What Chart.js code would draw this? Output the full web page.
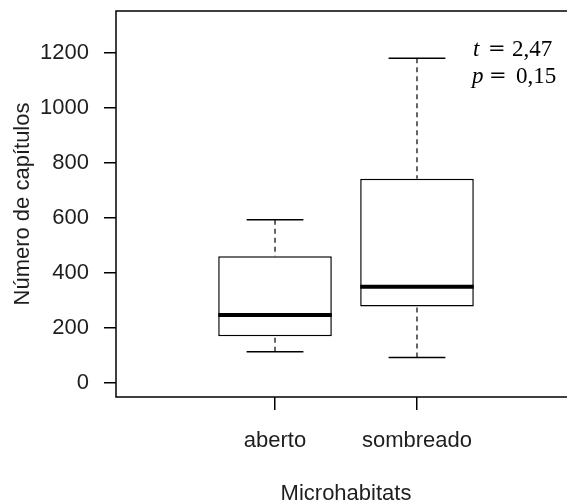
<!DOCTYPE html>
<html>
<head>
<meta charset="utf-8">
<script src="https://cdn.jsdelivr.net/npm/chart.js@4"></script>
<style>
  html, body { margin: 0; padding: 0; background: #fff; overflow: hidden; }
  canvas { display: block; }
</style>
</head>
<body>
<canvas id="boxChart" width="580" height="502"></canvas>
<script>
// ---------------- DATA ----------------
const categories = ["aberto", "sombreado"];
const positions = [1, 2];
const whiskerLow = [113, 92];
const q1 = [169, 277];
const median = [246, 349];
const q3 = [460, 742];
const whiskerHigh = [593, 1180];
const yTicks = [0, 200, 400, 600, 800, 1000, 1200];

const statNames = ["t", "p"];
const statValues = ["2,47", "0,15"];

const TEXT = "#1e1e1e";
const SANS = '"Liberation Sans", Arial, sans-serif';
const SERIF = '"Liberation Serif", "Times New Roman", serif';

// whiskers, caps, median, frame and the t / p text
const boxExtras = {
  id: "boxExtras",
  afterDatasetsDraw(chart) {
    const { ctx, chartArea: a } = chart;
    const y = chart.scales.y;
    const bars = chart.getDatasetMeta(0).data;

    ctx.save();
    ctx.strokeStyle = "#000";
    bars.forEach((bar, i) => {
      const x = bar.x;
      const half = bar.width / 2;
      const yLow = y.getPixelForValue(whiskerLow[i]);
      const yHigh = y.getPixelForValue(whiskerHigh[i]);
      const yQ1 = y.getPixelForValue(q1[i]);
      const yQ3 = y.getPixelForValue(q3[i]);
      const yMed = y.getPixelForValue(median[i]);

      // dashed whiskers (start at the whisker end)
      ctx.lineWidth = 1.2;
      ctx.setLineDash([5, 4]);
      ctx.beginPath();
      ctx.moveTo(x, yLow);
      ctx.lineTo(x, yQ1);
      ctx.stroke();
      ctx.beginPath();
      ctx.moveTo(x, yHigh);
      ctx.lineTo(x, yQ3);
      ctx.stroke();
      ctx.setLineDash([]);

      // staples
      ctx.lineWidth = 1.5;
      ctx.beginPath();
      ctx.moveTo(x - half / 2, yLow);
      ctx.lineTo(x + half / 2, yLow);
      ctx.moveTo(x - half / 2, yHigh);
      ctx.lineTo(x + half / 2, yHigh);
      ctx.stroke();

      // median
      ctx.lineWidth = 4;
      ctx.beginPath();
      ctx.moveTo(x - half, yMed);
      ctx.lineTo(x + half, yMed);
      ctx.stroke();
    });

    // plot frame
    ctx.lineWidth = 1.5;
    ctx.strokeRect(a.left, a.top, a.right - a.left, a.bottom - a.top);

    // statistics
    ctx.fillStyle = "#000";
    ctx.textBaseline = "alphabetic";
    const x0 = a.right - 103;
    const lines = [
      { base: a.top + 45, name: 0, eq: 15, num: 39 },
      { base: a.top + 72, name: -1, eq: 16, num: 43 }
    ];
    lines.forEach((ln, i) => {
      ctx.font = "italic 23px " + SERIF;
      ctx.fillText(statNames[i], x0 + ln.name, ln.base);
      ctx.font = '21px "DejaVu Serif", serif';
      ctx.fillText("=", x0 + ln.eq, ln.base - 1);
      ctx.font = "23px " + SERIF;
      ctx.fillText(statValues[i], x0 + ln.num, ln.base);
    });
    ctx.restore();
  }
};

const boxData = positions.map((p, i) => ({ x: p, y: [q1[i], q3[i]] }));

new Chart(document.getElementById("boxChart"), {
  type: "bar",
  data: {
    datasets: [
      {
        data: boxData,
        backgroundColor: "#fff",
        borderColor: "#000",
        borderWidth: 1.5,
        borderSkipped: false,
        categoryPercentage: 0.8,
        barPercentage: 1
      }
    ]
  },
  options: {
    responsive: false,
    animation: false,
    devicePixelRatio: 1,
    layout: { padding: { top: 11, right: 4, left: 0, bottom: 0 } },
    plugins: {
      legend: { display: false },
      tooltip: { enabled: false }
    },
    scales: {
      x: {
        type: "linear",
        min: -0.12,
        max: 3.12,
        offset: false,
        afterBuildTicks: (scale) => {
          scale.ticks = positions.map((v) => ({ value: v }));
        },
        afterFit: (scale) => {
          scale.height = 105;
          scale.paddingLeft = 0;
          scale.paddingRight = 0;
        },
        ticks: {
          color: TEXT,
          padding: 18,
          autoSkip: false,
          maxRotation: 0,
          font: { family: SANS, size: 22 },
          callback: (v) => categories[positions.indexOf(v)] ?? ""
        },
        grid: { offset: false, drawOnChartArea: false, tickLength: 13, color: "#000", lineWidth: 1.5 },
        border: { display: false },
        title: {
          display: true,
          text: "Microhabitats",
          color: TEXT,
          padding: { top: 0, bottom: 0 },
          font: { family: SANS, size: 22, lineHeight: 0.75 }
        }
      },
      y: {
        min: -52,
        max: 1352,
        afterBuildTicks: (scale) => {
          scale.ticks = yTicks.map((v) => ({ value: v }));
        },
        afterFit: (scale) => {
          scale.width = 116;
          scale.paddingTop = 0;
          scale.paddingBottom = 0;
        },
        ticks: {
          color: TEXT,
          padding: 15,
          font: { family: SANS, size: 22 },
          callback: (v) => String(v)
        },
        grid: { drawOnChartArea: false, tickLength: 12, color: "#000", lineWidth: 1.5 },
        border: { display: false },
        title: {
          display: true,
          text: "Número de capítulos",
          color: TEXT,
          padding: { top: 10, bottom: 0 },
          font: { family: SANS, size: 22 }
        }
      }
    }
  },
  plugins: [boxExtras]
});
</script>
</body>
</html>
